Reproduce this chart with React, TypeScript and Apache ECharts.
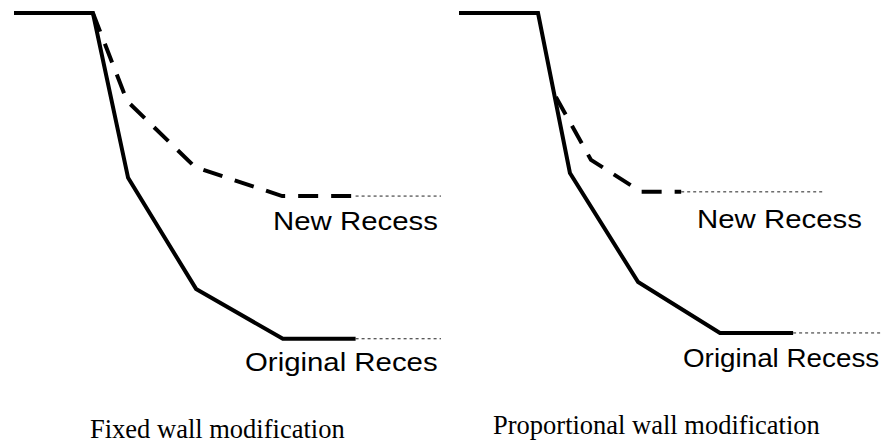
import React, { useEffect, useRef } from "react";
import * as echarts from "echarts";

// ---- Data (horizontal distance / depth, original recess depth = 100) ----
const FIXED_ORIGINAL_X = [0, 23.1, 33.4, 53.3, 78.7, 100];
const FIXED_ORIGINAL_DEPTH = [0, 0, 50.6, 84.7, 100, 100];
const FIXED_NEW_X = [23.1, 33.1, 53.0, 78.5, 100];
const FIXED_NEW_DEPTH = [0, 27.0, 47.3, 56.2, 56.2];
const FIXED_NEW_GUIDE_END = 125;
const FIXED_ORIGINAL_GUIDE_END = 125;

const PROP_ORIGINAL_X = [0, 23.65, 33.2, 53.6, 78.1, 100];
const PROP_ORIGINAL_DEPTH = [0, 0, 50, 84.1, 100, 100];
const PROP_NEW_X = [29.0, 39.5, 54.5, 66.5];
const PROP_NEW_DEPTH = [26.25, 45.9, 55.9, 55.9];
const PROP_NEW_GUIDE_END = 109.3;
const PROP_ORIGINAL_GUIDE_END = 126.6;

const LABEL_NEW = "New Recess";
const LABEL_ORIGINAL_FIXED = "Original Reces";
const LABEL_ORIGINAL_PROP = "Original Recess";
const TITLE_FIXED = "Fixed wall modification";
const TITLE_PROP = "Proportional wall modification";

const zip = (xs: number[], ys: number[]) => xs.map((x, i) => [x, ys[i]]);
const last = (a: number[]) => a[a.length - 1];

type PanelCfg = {
  gridLeft: number;
  xMax: number;
  yMax: number;
  origX: number[];
  origD: number[];
  newX: number[];
  newD: number[];
  newGuideEnd: number;
  origGuideEnd: number;
  newLabel: { x: number; y: number };
  origLabel: { x: number; y: number; text: string; scaleX: number };
  title: string;
  titlePos: { x: number; y: number };
};

function buildOption(c: PanelCfg): any {
  const sansStyle = {
    fill: "#000",
    fontSize: 26,
    fontFamily: "Liberation Sans, Arial, sans-serif",
    textAlign: "left",
    textVerticalAlign: "middle",
  };
  return {
    animation: false,
    backgroundColor: "#fff",
    grid: { left: c.gridLeft, top: 13, right: 0, bottom: 0, containLabel: false },
    xAxis: { type: "value", min: 0, max: c.xMax, show: false },
    yAxis: { type: "value", min: 0, max: c.yMax, inverse: true, show: false },
    series: [
      {
        type: "line",
        data: [
          [last(c.origX), last(c.origD)],
          [c.origGuideEnd, last(c.origD)],
        ],
        symbol: "none",
        lineStyle: { color: "#222", width: 1, type: [3, 3] },
        z: 1,
      },
      {
        type: "line",
        data: [
          [last(c.newX), last(c.newD)],
          [c.newGuideEnd, last(c.newD)],
        ],
        symbol: "none",
        lineStyle: { color: "#222", width: 1, type: [3, 3] },
        z: 1,
      },
      {
        type: "line",
        data: zip(c.newX, c.newD),
        symbol: "none",
        lineStyle: { color: "#000", width: 4, type: [20, 13], cap: "butt", join: "miter" },
        z: 2,
      },
      {
        type: "line",
        data: zip(c.origX, c.origD),
        symbol: "none",
        lineStyle: { color: "#000", width: 4, type: "solid", cap: "butt", join: "miter" },
        z: 3,
      },
    ],
    graphic: [
      {
        type: "text",
        x: c.newLabel.x,
        y: c.newLabel.y,
        scaleX: 1.13,
        style: { ...sansStyle, text: LABEL_NEW },
      },
      {
        type: "text",
        x: c.origLabel.x,
        y: c.origLabel.y,
        scaleX: c.origLabel.scaleX,
        style: { ...sansStyle, text: c.origLabel.text },
      },
      {
        type: "text",
        x: c.titlePos.x,
        y: c.titlePos.y,
        style: {
          text: c.title,
          fill: "#000",
          fontSize: 26.5,
          fontFamily: "Liberation Serif, Times New Roman, serif",
          textAlign: "left",
          textVerticalAlign: "middle",
        },
      },
    ],
  };
}

export default function App() {
  const leftRef = useRef<HTMLDivElement>(null);
  const rightRef = useRef<HTMLDivElement>(null);

  useEffect(() => {
    const left = echarts.init(leftRef.current!, null, { renderer: "svg" });
    const right = echarts.init(rightRef.current!, null, { renderer: "svg" });
    left.setOption(
      buildOption({
        gridLeft: 14,
        xMax: 125,
        yMax: 132,
        origX: FIXED_ORIGINAL_X,
        origD: FIXED_ORIGINAL_DEPTH,
        newX: FIXED_NEW_X,
        newD: FIXED_NEW_DEPTH,
        newGuideEnd: FIXED_NEW_GUIDE_END,
        origGuideEnd: FIXED_ORIGINAL_GUIDE_END,
        newLabel: { x: 273, y: 221 },
        origLabel: { x: 245, y: 362, text: LABEL_ORIGINAL_FIXED, scaleX: 1.13 },
        title: TITLE_FIXED,
        titlePos: { x: 90, y: 429 },
      })
    );
    right.setOption(
      buildOption({
        gridLeft: 18,
        xMax: 126.6,
        yMax: 134.4,
        origX: PROP_ORIGINAL_X,
        origD: PROP_ORIGINAL_DEPTH,
        newX: PROP_NEW_X,
        newD: PROP_NEW_DEPTH,
        newGuideEnd: PROP_NEW_GUIDE_END,
        origGuideEnd: PROP_ORIGINAL_GUIDE_END,
        newLabel: { x: 256, y: 219 },
        origLabel: { x: 242, y: 358, text: LABEL_ORIGINAL_PROP, scaleX: 1.07 },
        title: TITLE_PROP,
        titlePos: { x: 52, y: 425 },
      })
    );
    return () => {
      left.dispose();
      right.dispose();
    };
  }, []);

  return (
    <div
      style={{
        position: "absolute",
        left: 0,
        top: 0,
        width: 882,
        height: 443,
        background: "#fff",
        overflow: "hidden",
      }}
    >
      <div
        ref={leftRef}
        style={{ position: "absolute", left: 0, top: 0, width: 441, height: 443, overflow: "hidden" }}
      />
      <div
        ref={rightRef}
        style={{ position: "absolute", left: 441, top: 0, width: 441, height: 443, overflow: "hidden" }}
      />
    </div>
  );
}
